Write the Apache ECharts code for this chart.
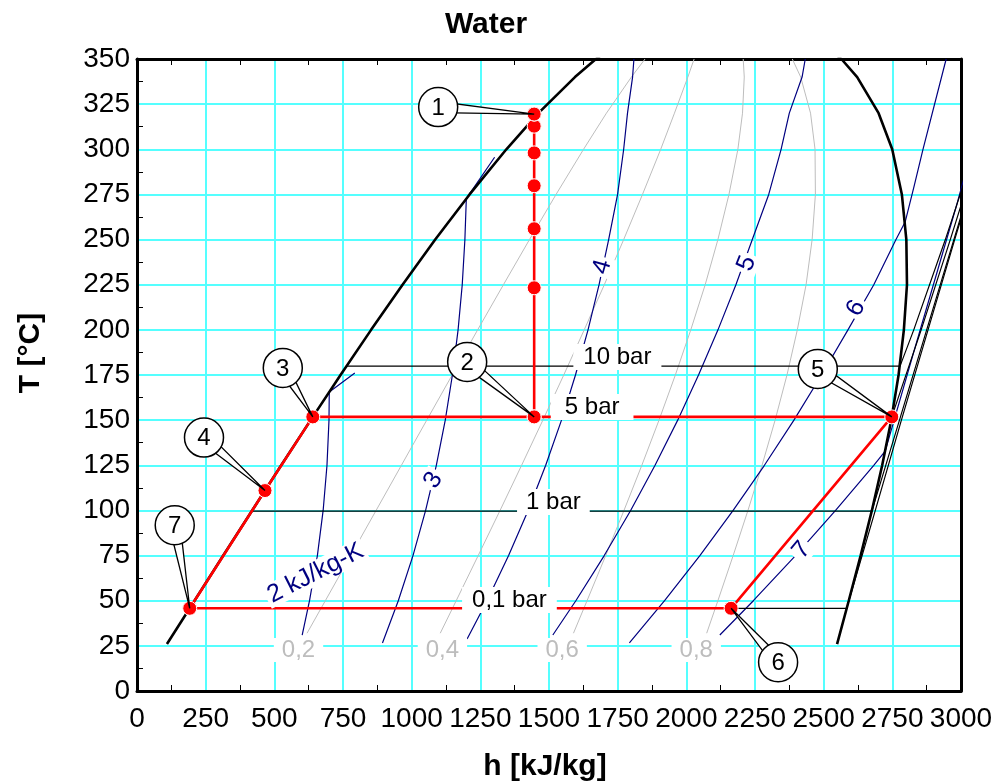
<!DOCTYPE html>
<html><head><meta charset="utf-8">
<script src="https://cdn.jsdelivr.net/npm/echarts@6.0.0/dist/echarts.min.js"></script>
<style>html,body{margin:0;padding:0;background:#fff}#c{width:996px;height:783px}</style>
</head><body><div id="c"></div>
<script>
// ---------- data (h [kJ/kg], T [°C]) ----------
const saturationDome = [[109,26],[134,32],[209.3,50],[314,75],[419.2,100],[525.1,125],[632.2,150],[741,175],[852.3,200],[966.8,225],[1085.8,250],[1210.9,275],[1344.8,300],[1461.4,320],[1594.5,340],[1670.9,350],[1760.5,360],[2084,374],[2481,360],[2564.6,350],[2622,340],[2700,320],[2749.6,300],[2784.7,275],[2801,250],[2803.3,225],[2792,200],[2772.7,175],[2745.9,150],[2713.1,125],[2675.6,100],[2634.6,75],[2591.3,50],[2548.8,26]];

const isobar10 = [[762.8,179.9],[2778,179.9],[2828,200],[2943,250],[3051,300]];
const isobar5 = [[640.1,151.8],[2748,151.8],[2855,200],[2961,250],[3064,300]];
const isobar1 = [[417.5,99.6],[2675.5,99.6],[2776,150],[2875,200],[2974,250],[3074,300]];
const isobar01 = [[191.8,45.8],[2584,45.8],[2688,100],[2783,150],[2880,200],[2977,250],[3077,300]];

const quality02 = [[619.1,32],[685.7,50],[778.1,75],[870.5,100],[962.7,125],[1054.9,150],[1147.4,175],[1240.2,200],[1334.1,225],[1428.9,250],[1525.7,275],[1625.8,300],[1709.1,320],[1800,340],[1849.6,350]];
const quality04 = [[1104.1,32],[1162.1,50],[1242.2,75],[1321.8,100],[1400.3,125],[1477.7,150],[1553.7,175],[1628.2,200],[1701.4,225],[1771.9,250],[1840.4,275],[1906.7,300],[1956.8,320],[2005.5,340],[2028.4,350]];
const quality06 = [[1589.1,32],[1638.5,50],[1706.4,75],[1773,100],[1838,125],[1900.5,150],[1960,175],[2016.2,200],[2068.7,225],[2115,250],[2155.2,275],[2187.7,300],[2204.5,320],[2210.9,340],[2207.1,350]];
const quality08 = [[2074.1,32],[2114.9,50],[2170.5,75],[2224.3,100],[2275.6,125],[2323.2,150],[2366.4,175],[2404.1,200],[2436,225],[2458,250],[2469.9,275],[2468.6,300],[2452.2,320],[2416.4,340],[2385.9,350]];

const entropy2 = [[601.4,31],[628.1,50],[656.7,75],[677.7,100],[691.7,125],[699,150],[700,165.6],[793,176.1]];
const entropy3 = [[893.7,26.6],[951.3,50],[1004.8,75],[1050.8,100],[1089.8,125],[1122.3,150],[1148.3,175],[1169,200],[1184.1,225],[1193.8,250],[1199,272.7],[1302,295.6]];
const entropy4 = [[1201.8,28.8],[1274.5,50],[1352.9,75],[1424,100],[1488,125],[1545.5,150],[1596.4,175],[1642.1,200],[1682.3,225],[1717.2,250],[1749.7,275],[1771.9,300],[1785.8,320],[1804.3,340],[1809.2,350]];
const entropy5 = [[1514,31],[1597.7,50],[1701.1,75],[1797.2,100],[1886.1,125],[1968.6,150],[2044.4,175],[2115.2,200],[2180.5,225],[2240.2,250],[2300,275],[2345,300],[2374.9,320],[2421.4,340],[2433,350]];
const entropy6 = [[1792.7,26.6],[1920.8,50],[2049.3,75],[2170.4,100],[2284.3,125],[2391.7,150],[2492.4,175],[2588.4,200],[2682.5,225],[2763.3,250],[2797,259.9],[2830,280],[2861.6,300],[2946,350]];
const entropy7 = [[2122,31],[2244,50],[2397.4,75],[2543.4,100],[2682.4,125],[2724,132.8],[2828.5,188],[2984,269],[3040,300]];

// Rankine cycle
const cycleH = [192, 466, 640, 1446, 2748, 2163, 192];
const cycleT = [45.8, 111, 151.8, 151.8, 151.8, 45.8, 45.8];
const pumpH = [1446, 1446, 1446, 1446, 1446, 1446, 1446];
const pumpT = [151.8, 223.3, 256, 279.8, 298, 312.8, 319.5];

// numbered states
const stateNumbers = [1, 2, 3, 4, 5, 6, 7];
const stateH = [1446, 1446, 640, 466, 2748, 2163, 192];
const stateT = [319.5, 151.8, 151.8, 111, 151.8, 45.8, 45.8];

// line labels
const labelText = ['10 bar','5 bar','1 bar','0,1 bar','0,2','0,4','0,6','0,8','2 kJ/kg-K','3','4','5','6','7'];
const labelH = [1749, 1657, 1516, 1356, 588, 1112, 1548, 2036, 650, 1079, 1694, 2220, 2618, 2420];
const labelT = [184.9, 157.3, 104.7, 50.4, 22.7, 22.7, 22.7, 22.7, 65.3, 116.8, 234.8, 236.8, 212, 78];

// ---------- styling (not data) ----------
const FONT = 'Liberation Sans, Arial, sans-serif';
const NAVY = '#000080';
const GRAY = '#bdbdbd';
const labelKind = ['p','p','p','p','x','x','x','x','s','s','s','s','s','s'];
const labelRotate = [0,0,0,0,0,0,0,0,27,58,74,68,60,50];
const labelPadding = [[1,10,1,10],[1,14,1,14],[1,9,1,9],[1,10,1,10],[0,8],[0,8],[0,8],[0,8],[0,3],[0,3],[0,3],[0,3],[0,3],[0,3]];
const calloutOffsets = [[-96,-7],[-67,-55],[-30,-49],[-61,-53],[-74,-48],[47,54],[-15,-83]];

const zip = (a, b) => a.map((v, i) => [v, b[i]]);

const chart = echarts.init(document.getElementById('c'), null, {renderer: 'canvas'});

function lineSeries(name, data, color, width, z) {
  return {name, type: 'line', data, symbol: 'none', showSymbol: false, z, silent: true,
    lineStyle: {color, width, opacity: 1}, clip: true, animation: false, emphasis: {disabled: true}};
}

const labelData = labelText.map((t, i) => {
  const kind = labelKind[i];
  const color = kind === 'p' ? '#000' : (kind === 'x' ? GRAY : NAVY);
  return {value: [labelH[i], labelT[i]], name: t,
    label: {rotate: labelRotate[i], color, padding: labelPadding[i], fontSize: kind === 's' ? 25 : 24}};
});

const option = {
  animation: false,
  backgroundColor: '#fff',
  grid: {left: 137, right: 35, top: 59, bottom: 92, containLabel: false, outerBoundsMode: 'none'},
  xAxis: [{
    type: 'value', min: 0, max: 3000, interval: 250, position: 'bottom',
    axisLine: {show: true, onZero: false, lineStyle: {color: '#000', width: 3}},
    axisTick: {show: false, inside: true},
    minorTick: {show: true, splitNumber: 2, length: 6, lineStyle: {color: '#000', width: 1}},
    axisLabel: {fontFamily: FONT, fontSize: 28, color: '#000', margin: 28, verticalAlign: 'middle',
      formatter: v => String(v)},
    splitLine: {show: true, lineStyle: {color: '#55ffff', width: 2}},
    minorSplitLine: {show: false}
  }, {
    type: 'value', min: 0, max: 3000, interval: 250, position: 'top',
    axisLine: {show: true, onZero: false, lineStyle: {color: '#000', width: 3}},
    axisTick: {show: false, inside: true},
    minorTick: {show: true, splitNumber: 2, length: 6, lineStyle: {color: '#000', width: 1}},
    axisLabel: {show: false}, splitLine: {show: false}
  }],
  yAxis: [{
    type: 'value', min: 0, max: 350, interval: 25, position: 'left',
    axisLine: {show: true, onZero: false, lineStyle: {color: '#000', width: 3}},
    axisTick: {show: false, inside: true},
    minorTick: {show: true, splitNumber: 2, length: 6, lineStyle: {color: '#000', width: 1}},
    axisLabel: {fontFamily: FONT, fontSize: 28, color: '#000', margin: 7, formatter: v => String(v)},
    splitLine: {show: true, lineStyle: {color: '#55ffff', width: 2}}
  }, {
    type: 'value', min: 0, max: 350, interval: 25, position: 'right',
    axisLine: {show: true, onZero: false, lineStyle: {color: '#000', width: 3}},
    axisTick: {show: false}, axisLabel: {show: false}, splitLine: {show: false}
  }],
  graphic: [
    {type: 'text', x: 486, y: 25, silent: true,
      style: {text: 'Water', font: 'bold 30px ' + FONT, fill: '#000', align: 'center', verticalAlign: 'middle', textAlign: 'center', textVerticalAlign: 'middle'}},
    {type: 'text', x: 545, y: 767, silent: true,
      style: {text: 'h [kJ/kg]', font: 'bold 30px ' + FONT, fill: '#000', align: 'center', verticalAlign: 'middle', textAlign: 'center', textVerticalAlign: 'middle'}},
    {type: 'text', x: 31, y: 353, rotation: Math.PI / 2, silent: true,
      style: {text: 'T [°C]', font: 'bold 30px ' + FONT, fill: '#000', align: 'center', verticalAlign: 'middle', textAlign: 'center', textVerticalAlign: 'middle'}}
  ],
  series: [
    lineSeries('x=0.2', quality02, GRAY, 1, 2),
    lineSeries('x=0.4', quality04, GRAY, 1, 2),
    lineSeries('x=0.6', quality06, GRAY, 1, 2),
    lineSeries('x=0.8', quality08, GRAY, 1, 2),
    lineSeries('s=2', entropy2, NAVY, 1.2, 3),
    lineSeries('s=3', entropy3, NAVY, 1.2, 3),
    lineSeries('s=4', entropy4, NAVY, 1.2, 3),
    lineSeries('s=5', entropy5, NAVY, 1.2, 3),
    lineSeries('s=6', entropy6, NAVY, 1.2, 3),
    lineSeries('s=7', entropy7, NAVY, 1.2, 3),
    lineSeries('10 bar', isobar10, '#000', 1.2, 4),
    lineSeries('5 bar', isobar5, '#000', 1.2, 4),
    lineSeries('1 bar', isobar1, '#000', 1.2, 4),
    lineSeries('0,1 bar', isobar01, '#000', 1.2, 4),
    lineSeries('saturation', saturationDome, '#000', 2.6, 5),
    lineSeries('cycle', zip(cycleH, cycleT), '#ff0000', 2.6, 6),
    lineSeries('pump', zip(pumpH, pumpT), '#ff0000', 2.6, 6),
    {name: 'pump points', type: 'scatter', data: zip(pumpH, pumpT), symbol: 'circle', symbolSize: 14, z: 7, silent: true,
      itemStyle: {color: '#ff0000', borderColor: '#fff', borderWidth: 1, opacity: 1}},
    {name: 'state points', type: 'scatter', data: zip(stateH, stateT), symbol: 'circle', symbolSize: 14, z: 7, silent: true,
      itemStyle: {color: '#ff0000', borderColor: '#fff', borderWidth: 1, opacity: 1}},
    {name: 'labels', type: 'scatter', data: labelData, symbolSize: 0, z: 8, silent: true,
      itemStyle: {color: '#fff', opacity: 1},
      label: {show: true, position: 'inside', formatter: p => p.name, fontFamily: FONT, fontSize: 24, opacity: 1,
        backgroundColor: '#fff', align: 'center', verticalAlign: 'middle', lineHeight: 24}},
    {name: 'callouts', type: 'custom', z: 9, silent: true, clip: false,
      data: zip(stateH, stateT),
      renderItem: (params, api) => {
        const i = params.dataIndex;
        const p = api.coord([api.value(0), api.value(1)]);
        const off = calloutOffsets[i];
        const c = [p[0] + off[0], p[1] + off[1]];
        const dx = p[0] - c[0], dy = p[1] - c[1];
        const len = Math.hypot(dx, dy);
        const nx = -dy / len, ny = dx / len, w = 5.5;
        return {type: 'group', children: [
          {type: 'polygon', shape: {points: [[c[0] + nx * w, c[1] + ny * w], [p[0], p[1]], [c[0] - nx * w, c[1] - ny * w]]},
            style: {fill: '#fff', stroke: '#000', lineWidth: 1.3}},
          {type: 'circle', shape: {cx: c[0], cy: c[1], r: 19.5}, style: {fill: '#fff', stroke: '#000', lineWidth: 1.5}},
          {type: 'text', x: c[0], y: c[1] + 1, style: {text: String(stateNumbers[i]), font: '24px ' + FONT, fill: '#000',
            align: 'center', verticalAlign: 'middle', textAlign: 'center', textVerticalAlign: 'middle'}}
        ]};
      }}
  ]
};
chart.setOption(option);
</script></body></html>
